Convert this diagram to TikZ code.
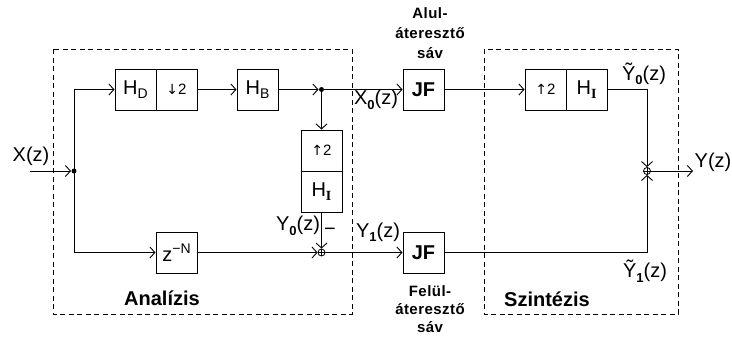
\documentclass[tikz,border=0pt]{standalone}
\usepackage{fontspec}
\setmainfont{Liberation Sans}
\newfontfamily\notefont{Liberation Sans Bold}[LetterSpace=3]
\newfontfamily\dvfont{DejaVu Sans}
\newfontfamily\tmsfont{Liberation Serif Bold}
\usetikzlibrary{arrows.meta}
\newcommand{\bigfs}{\fontsize{20}{22}\selectfont}
\newcommand{\notefs}{\notefont\fontsize{15}{15}\selectfont}
\newcommand{\sbs}[1]{\raisebox{-4pt}{\fontsize{14}{14}\selectfont #1}}
\newcommand{\sbn}[1]{\raisebox{-4.5pt}{\fontsize{13}{13}\selectfont\bfseries #1}}
\newcommand{\sbI}{\raisebox{-4pt}{\fontsize{14}{14}\tmsfont I}}
\newcommand{\upt}{{\dvfont\fontsize{14}{14}\selectfont ↑}{\fontsize{15}{15}\selectfont 2}}
\newcommand{\dnt}{{\dvfont\fontsize{14}{14}\selectfont ↓}{\fontsize{15}{15}\selectfont 2}}
\begin{document}
\begin{tikzpicture}[x=1pt,y=-1pt,line width=1pt,
  >={Straight Barb[length=5pt,width=11pt,line width=0.9pt]},
  blk/.style={draw,rectangle,minimum width=41pt,minimum height=41pt,inner sep=0pt,font=\bigfs},
  lbl/.style={inner sep=0pt,font=\bigfs},
  note/.style={inner sep=0pt,font=\notefs},
  grp/.style={dash pattern=on 5pt off 3.5pt,line width=0.9pt},
  dotn/.style={circle,fill,inner sep=0pt,minimum size=5pt},
  sumn/.style={circle,draw,inner sep=0pt,minimum size=7pt,line width=0.8pt}]
\useasboundingbox (0,0) rectangle (732,338);
% groups
\draw[grp] (53,49) rectangle (352,314);
\draw[grp] (484,49) rectangle (678,314);
\node[lbl,font=\bigfs\bfseries] (ana) at (162,298) {Analízis};
\node[lbl,font=\bigfs\bfseries] (szi) at (547,299) {Szintézis};
% blocks
\node[blk] (hd) at (135.5,89.5) {H\sbs{D}};
\node[blk] (dn) at (176.5,89.5) {\dnt};
\node[blk] (hb) at (257.5,89.5) {H\sbs{B}};
\node[dotn] (jd) at (321.5,89.5) {};
\node[blk] (up1) at (321.5,150.5) {\upt};
\node[blk] (hi1) at (321.5,191.5) {H\sbI};
\node[sumn] (s1) at (321.5,252.5) {};
\node[blk] (zn) at (176.5,252.5) {z\raisebox{8pt}{\fontsize{14}{14}\selectfont −N}};
\node[blk,font=\bigfs\bfseries] (jf1) at (423.5,89.5) {JF};
\node[blk,font=\bigfs\bfseries] (jf2) at (423.5,252.5) {JF};
\node[blk] (up2) at (545.5,89.5) {\upt};
\node[blk] (hi2) at (586.5,89.5) {H\sbI};
\node[sumn] (s2) at (647,171) {};
\node[dotn] (xd) at (74,171) {};
\coordinate (xin) at (30,171);
\coordinate (yout) at (693,171);
% plus signs in summers
\draw[line width=0.7pt] (s1.north) -- (s1.south) (s1.west) -- (s1.east);
\draw[line width=0.7pt] (s2.north) -- (s2.south) (s2.west) -- (s2.east);
% connectors
\draw[->] (xin) -- (xd);
\draw[->] (xd.center) |- (hd.west);
\draw[->] (xd.center) |- (zn.west);
\draw[->] (dn.east) -- (hb.west);
\draw[->] (hb.east) -- (jd);
\draw[->] (jd.center) -- (up1.north);
\draw[->] (jd.center) -- (jf1.west);
\draw[->] (hi1.south) -- (s1.north);
\draw[->] (zn.east) -- (s1.west);
\draw[->] (s1.east) -- (jf2.west);
\draw[->] (jf1.east) -- (up2.west);
\draw[->] (hi2.east) -| (s2.north);
\draw[->] (jf2.east) -| (s2.south);
\draw[->] (s2.east) -- (yout);
% labels
\node[lbl] (lx) at (31,156) {X(z)};
\node[lbl] (lx0) at (376,100) {X\sbn{0}(z)};
\node[lbl] (ly1) at (378,232) {Y\sbn{1}(z)};
\node[lbl] (ly0) at (298,226) {Y\sbn{0}(z)};
\node[lbl] (lmin) at (330,232) {−};
\node[lbl] (lyt0) at (644,74) {Ỹ\sbn{0}(z)};
\node[lbl] (lyt1) at (645,271) {Ỹ\sbn{1}(z)};
\node[lbl] (ly) at (713,162) {Y(z)};
\node[note] (a1) at (430,13) {Alul-};
\node[note] (a2) at (430,33) {áteresztő};
\node[note] (a3) at (430,53) {sáv};
\node[note] (f1) at (430,291) {Felül-};
\node[note] (f2) at (430,309) {áteresztő};
\node[note] (f3) at (430,327) {sáv};
\end{tikzpicture}
\end{document}
